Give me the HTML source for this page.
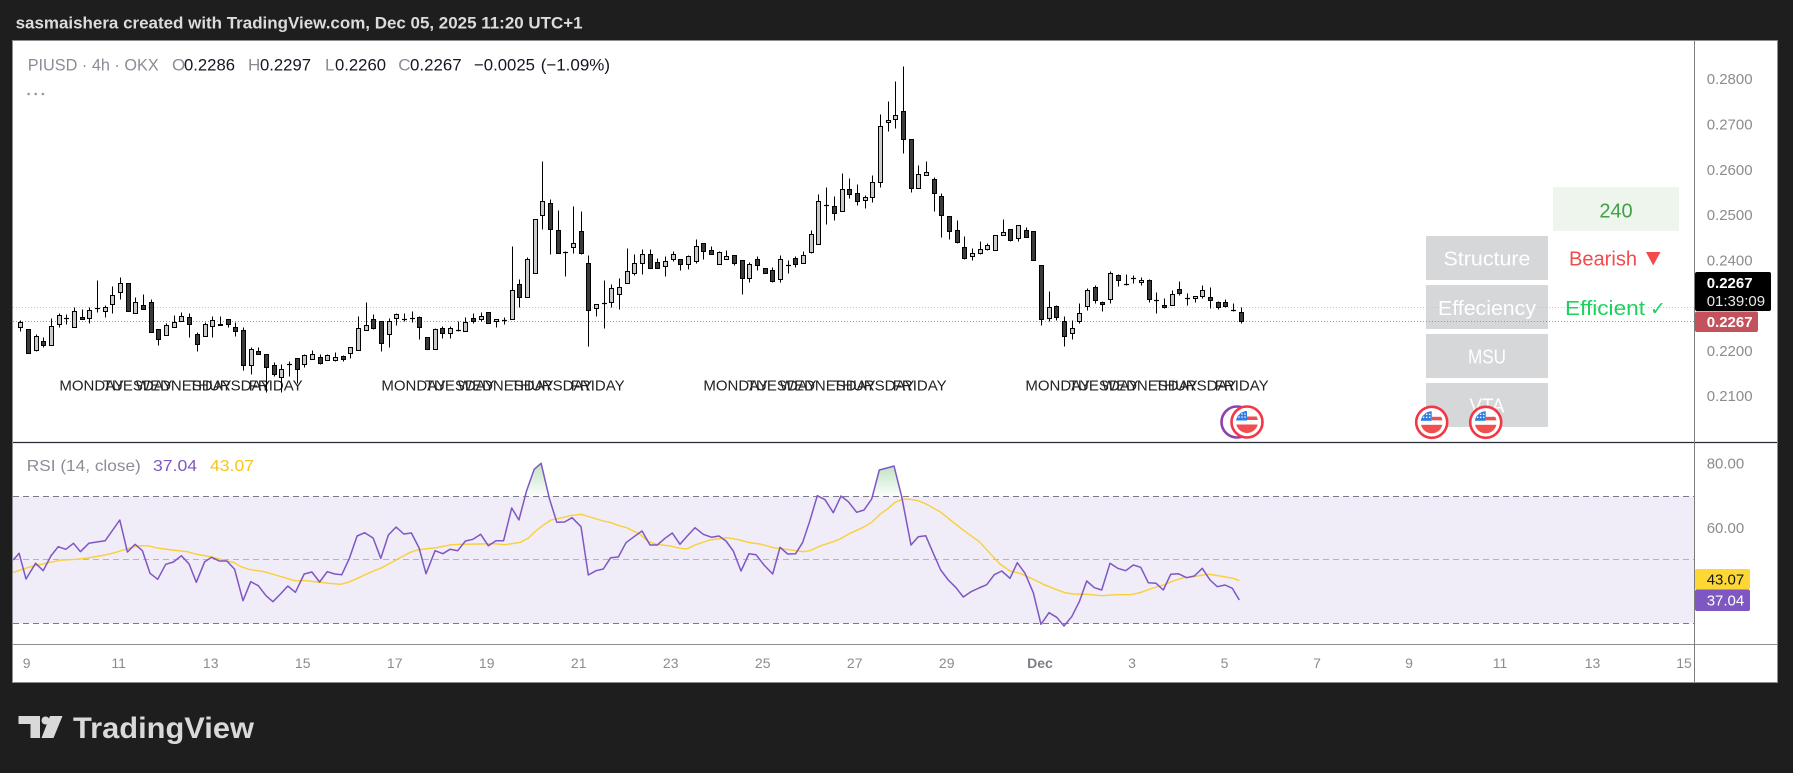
<!DOCTYPE html>
<html><head><meta charset="utf-8"><style>
html,body{margin:0;padding:0;background:#1e1e1e;overflow:hidden}
svg{display:block}
text{font-family:"Liberation Sans","DejaVu Sans",sans-serif}
</style></head><body>
<svg id="s" width="1793" height="773" viewBox="0 0 1793 773" xmlns="http://www.w3.org/2000/svg">
<defs>
<clipPath id="mainClip"><rect x="13" y="41" width="1681.5" height="401"/></clipPath>
<clipPath id="rsiClip"><rect x="13" y="443" width="1681.5" height="201"/></clipPath>
<clipPath id="fc"><circle cx="0" cy="0" r="11"/></clipPath>
<linearGradient id="gg" x1="0" y1="0" x2="0" y2="1"><stop offset="0" stop-color="#4caf50" stop-opacity="0.35"/><stop offset="1" stop-color="#4caf50" stop-opacity="0.02"/></linearGradient>
<g id="us">
<circle r="15.5" fill="#fff" stroke="#f23645" stroke-width="2.6"/>
<g clip-path="url(#fc)">
<rect x="-12" y="-12" width="24" height="24" fill="#fff"/>
<rect x="-12" y="-12" width="12" height="10.5" fill="#2f7de1"/>
<rect x="0" y="-5.5" width="12" height="3.5" fill="#f04f4f"/>
<rect x="-12" y="2.5" width="24" height="10" fill="#f04f4f"/>
<circle cx="-8" cy="-8" r="0.8" fill="#fff"/><circle cx="-5" cy="-8" r="0.8" fill="#fff"/><circle cx="-2" cy="-8" r="0.8" fill="#fff"/>
<circle cx="-8" cy="-5" r="0.8" fill="#fff"/><circle cx="-5" cy="-5" r="0.8" fill="#fff"/><circle cx="-2" cy="-5" r="0.8" fill="#fff"/>
</g>
</g>
</defs>

<rect x="0" y="0" width="1793" height="773" fill="#1e1e1e"/>
<text x="15.6" y="28.3" font-size="17" font-weight="bold" fill="#dcdcdc" textLength="567" lengthAdjust="spacingAndGlyphs">sasmaishera created with TradingView.com, Dec 05, 2025 11:20 UTC+1</text>

<!-- chart frame -->
<rect x="12.5" y="40.5" width="1765" height="642" fill="#ffffff" stroke="#8e8e8e" stroke-width="1"/>

<!-- legend -->
<text x="27.7" y="70.7" font-size="17" fill="#8a8d96" textLength="131" lengthAdjust="spacingAndGlyphs">PIUSD · 4h · OKX</text>
<text x="172" y="70.7" font-size="17" fill="#8a8d96">O</text>
<text x="184" y="70.7" font-size="17" fill="#131722" textLength="51" lengthAdjust="spacingAndGlyphs">0.2286</text>
<text x="248" y="70.7" font-size="17" fill="#8a8d96">H</text>
<text x="260" y="70.7" font-size="17" fill="#131722" textLength="51" lengthAdjust="spacingAndGlyphs">0.2297</text>
<text x="325" y="70.7" font-size="17" fill="#8a8d96">L</text>
<text x="335" y="70.7" font-size="17" fill="#131722" textLength="51" lengthAdjust="spacingAndGlyphs">0.2260</text>
<text x="398.3" y="70.7" font-size="17" fill="#8a8d96">C</text>
<text x="410" y="70.7" font-size="17" fill="#131722" textLength="51.7" lengthAdjust="spacingAndGlyphs">0.2267</text>
<text x="474" y="70.7" font-size="17" fill="#131722" textLength="61" lengthAdjust="spacingAndGlyphs">−0.0025</text>
<text x="540.7" y="70.7" font-size="17" fill="#131722" textLength="69.3" lengthAdjust="spacingAndGlyphs">(−1.09%)</text>
<circle cx="28.6" cy="94" r="1.3" fill="#9598a1"/><circle cx="35.7" cy="94" r="1.3" fill="#9598a1"/><circle cx="42.9" cy="94" r="1.3" fill="#9598a1"/>

<!-- panel boxes -->
<rect x="1553" y="187" width="126" height="44" fill="#edf5ed"/>
<text x="1616" y="217.3" font-size="20" fill="#43a047" text-anchor="middle">240</text>
<rect x="1426" y="236" width="122" height="44" fill="#d6d7d9"/>
<rect x="1426" y="285" width="122" height="44" fill="#d6d7d9"/>
<rect x="1426" y="334" width="122" height="44" fill="#d6d7d9"/>
<rect x="1426" y="383" width="122" height="44" fill="#d6d7d9"/>

<!-- price lines -->
<line x1="13" y1="307.5" x2="1694" y2="307.5" stroke="#f2d22a" stroke-width="1" stroke-dasharray="1,2"/>
<line x1="13" y1="321.5" x2="1694" y2="321.5" stroke="#9a9a9a" stroke-width="1" stroke-dasharray="1,2"/>

<text x="1487" y="265.7" font-size="20" fill="#ffffff" text-anchor="middle" textLength="87" lengthAdjust="spacingAndGlyphs">Structure</text>
<text x="1487" y="315" font-size="20" fill="#ffffff" text-anchor="middle" textLength="98" lengthAdjust="spacingAndGlyphs">Effeciency</text>
<text x="1487" y="363.3" font-size="20" fill="#ffffff" text-anchor="middle" textLength="38" lengthAdjust="spacingAndGlyphs">MSU</text>
<text x="1487" y="412.3" font-size="20" fill="#ffffff" text-anchor="middle" textLength="35" lengthAdjust="spacingAndGlyphs">VTA</text>
<text x="1569" y="265.7" font-size="20" fill="#f24b4b" textLength="68" lengthAdjust="spacingAndGlyphs">Bearish</text>
<polygon points="1646,252 1660.5,252 1653.2,265.5" fill="#f24b4b"/>
<text x="1565" y="315" font-size="20" fill="#1ed15f" textLength="80" lengthAdjust="spacingAndGlyphs">Efficient</text>
<text x="1650" y="315" font-size="19" fill="#1ed15f" font-family="DejaVu Sans, sans-serif">✓</text>

<!-- weekday labels -->
<g font-size="15" fill="#222" text-anchor="middle">
<text x="91.7" y="390.5">MONDAY</text><text x="137.7" y="390.5">TUESDAY</text><text x="183.7" y="390.5">WEDNESDAY</text><text x="229.7" y="390.5">THURSDAY</text><text x="275.7" y="390.5">FRIDAY</text>
<text x="413.7" y="390.5">MONDAY</text><text x="459.7" y="390.5">TUESDAY</text><text x="505.7" y="390.5">WEDNESDAY</text><text x="551.7" y="390.5">THURSDAY</text><text x="597.7" y="390.5">FRIDAY</text>
<text x="735.7" y="390.5">MONDAY</text><text x="781.7" y="390.5">TUESDAY</text><text x="827.7" y="390.5">WEDNESDAY</text><text x="873.7" y="390.5">THURSDAY</text><text x="919.7" y="390.5">FRIDAY</text>
<text x="1057.7" y="390.5">MONDAY</text><text x="1103.7" y="390.5">TUESDAY</text><text x="1149.7" y="390.5">WEDNESDAY</text><text x="1195.7" y="390.5">THURSDAY</text><text x="1241.7" y="390.5">FRIDAY</text>
</g>

<g id="candles" clip-path="url(#mainClip)"></g>

<!-- flags -->
<circle cx="1237" cy="422" r="15.5" fill="#fff" stroke="#8e3fb0" stroke-width="2.6"/>
<use href="#us" x="1247" y="422"/>
<use href="#us" x="1431.7" y="422.3"/>
<use href="#us" x="1485.7" y="422.3"/>

<!-- RSI pane -->
<rect x="13" y="496.3" width="1681.5" height="127" fill="#f0ecf8"/>
<line x1="13" y1="496.5" x2="1694" y2="496.5" stroke="#787b86" stroke-width="1" stroke-dasharray="6,4"/>
<line x1="13" y1="559.5" x2="1694" y2="559.5" stroke="#b2b5be" stroke-width="1" stroke-dasharray="6,4"/>
<line x1="13" y1="623.5" x2="1694" y2="623.5" stroke="#787b86" stroke-width="1" stroke-dasharray="6,4"/>
<g clip-path="url(#rsiClip)">
<polygon points="525.1,496.3 526.6,490.7 534.2,469.3 541.1,463.3 548.9,496.3" fill="url(#gg)"/>
<polygon points="872.4,496.3 879.3,470 887,468 894,466 901.6,496.3" fill="url(#gg)"/>
<polyline fill="none" stroke="#f9d037" stroke-width="1.4" stroke-linejoin="round" points="13,572.5 15.3,571.7 30.6,566.7 45.9,563.3 61.2,560 76.5,559.3 88,558 105.2,555 114.8,552.7 126.3,549 133.9,546.7 141.6,545.7 149.3,546 156.9,548 172.2,550 187.5,551.7 195.2,554 210.5,556.7 225.8,560.7 233.4,562.3 241.1,566.7 248.8,569.3 264.1,571.7 275.5,575 287,578.3 294.7,580.7 306.2,580.7 317.6,582 329.1,583.3 340.6,584.3 348.3,582.3 359.7,577.3 371.2,572 382.7,567.3 394.2,561 401.8,556.7 409.5,552.7 417.1,550 424.8,549 436.3,547.7 451.6,544.7 459.2,544.3 478.4,544 493.7,543.7 505.2,544.7 520.5,542.3 528.1,538.3 535.8,531 543.4,525 551.1,520 562.6,517.7 570,515.7 581.7,514.3 590,517 603.3,521 610,522.3 620,526 626.7,527.7 640,534.3 648.3,541.7 656.7,544.3 670,546 680,548.3 686.7,549 695,545 710,540 726.7,537.7 736.7,539.3 750,542.7 760,544 773.3,547.7 786.7,549.3 803.3,551.7 810,550.7 820,546 833.3,541.7 840,539 850,533.3 863.3,527.3 871.7,522.3 880,514.3 888.3,508.3 895,502.3 903.3,499 910,499.3 918.3,500.7 926.7,504.3 940,511.7 953.3,522.3 966.7,532.7 979.3,541.7 990,553.3 1000,564 1010,571 1020,573.3 1033.3,579.3 1043.3,584.3 1053.3,588.3 1065,592.7 1073.3,594 1086.7,594.3 1101.7,595.7 1116.7,594.7 1130,594.7 1140,592.7 1150,589 1163.3,585 1173.3,581 1183.3,577.7 1193.3,576.7 1203.3,575 1210,574.3 1220,576 1233.3,578.3 1239.3,580.7"/>
<polyline fill="none" stroke="#7e57c2" stroke-width="1.5" stroke-linejoin="round" points="13,560 15.3,557.7 19.1,553.3 26,579 35.6,563.3 43.2,570.7 50.9,556 58.2,546.7 65.8,549.3 73.5,543.3 80.4,551.7 88.8,543.3 96.8,542 105.2,540.7 119.8,520 127.4,552 135.1,544.3 142.4,550.7 150,573.3 157.7,579.3 165.7,564.3 173.4,562 181.4,555.7 189.1,564 196.3,582.3 204.7,561.7 211.6,557.3 219.3,561 226.9,561 234.6,569.3 243,600.7 250.7,581.7 258.3,585.7 266,595.7 272.9,601.7 280.5,594 287.8,586 295.4,592.3 304.2,574 311.9,572 319.6,582 327.2,571.7 334.9,574 341.8,574.7 349.4,558.3 357.1,536 364.7,532.7 373.1,538 380.8,558.3 388.4,535 396.1,527 403.8,534 411.4,533 419.1,548 426,573.7 435.1,550.7 442.8,553.7 450,549.3 457.7,550.7 465.4,541 473,539.3 480.7,534.3 488.3,545.7 496,540.7 503.6,540.7 511.7,508 518.9,520 526.6,490.7 534.2,469.3 541.1,463.3 549.6,499.3 556.8,522.3 564.5,522 572.1,517.7 581,526.7 588.3,575 596,570.7 603.3,569 610.7,557.7 618.3,557 626,542.7 634,536.7 642,531 650,545 657.3,545 665,538.3 672.3,533 680,544.3 687.3,536 695,527.7 703.3,534.3 711.7,537.3 719,536 726,541 733.3,551 741,571 749,553.7 756,554.7 764,565 772.7,574 780,547.3 787.7,554 795.7,553.7 802.7,542.3 810,520.3 817.3,495.7 825,499.7 833.3,512.7 841,496 848.3,501.7 856.7,512.3 864,510 871.7,499 879.3,470 887,468 894,466 901.7,496.7 911,545 918.3,536.7 925.7,535.7 933.3,553.3 940.7,570 948.3,580 956,587.7 963.3,597 971,591.7 979,588 986.7,584.7 994.3,574.7 1001.7,571 1010,578.3 1017.3,562.7 1025,573.3 1033.3,592.7 1041,624.3 1049,612.7 1056.7,617.3 1064,626 1071.7,616.7 1079.3,601.7 1086.7,581 1094.3,587.7 1101.7,590 1110,563.3 1117.7,568.3 1125.7,570.7 1133.3,565 1140.7,567.3 1148.3,582.7 1156,583.3 1163.3,590 1170.7,574.3 1178.3,573.7 1186.7,577.7 1194.3,576 1202.3,568.3 1210,580 1217.3,586.7 1225,585 1232.3,588.3 1239.3,600"/>
</g>
<text x="26.8" y="471" font-size="16" fill="#8a8d96" textLength="114" lengthAdjust="spacingAndGlyphs">RSI (14, close)</text>
<text x="153" y="471" font-size="16" fill="#7e57c2" textLength="44" lengthAdjust="spacingAndGlyphs">37.04</text>
<text x="210" y="471" font-size="16" fill="#f5c518" textLength="44" lengthAdjust="spacingAndGlyphs">43.07</text>

<!-- separators -->
<line x1="13" y1="442.5" x2="1777" y2="442.5" stroke="#2a2e39" stroke-width="1.2"/>
<line x1="13" y1="644.5" x2="1777" y2="644.5" stroke="#8e8e8e" stroke-width="1"/>
<line x1="1694.5" y1="41" x2="1694.5" y2="682" stroke="#7d7d7d" stroke-width="1"/>

<!-- price axis -->
<g font-size="15" fill="#8c8c8c">
<text x="1706.7" y="84.1">0.2800</text>
<text x="1706.7" y="129.7">0.2700</text>
<text x="1706.7" y="175">0.2600</text>
<text x="1706.7" y="219.8">0.2500</text>
<text x="1706.7" y="265.6">0.2400</text>
<text x="1706.7" y="355.8">0.2200</text>
<text x="1706.7" y="401.1">0.2100</text>
<text x="1706.7" y="468.7">80.00</text>
<text x="1706.7" y="533">60.00</text>
</g>
<rect x="1695" y="272" width="76" height="39" rx="2" fill="#000"/>
<text x="1706.7" y="288.2" font-size="15" font-weight="bold" fill="#fff">0.2267</text>
<text x="1706.7" y="306" font-size="15" fill="#e8e8e8">01:39:09</text>
<rect x="1695" y="311.5" width="63" height="20.5" rx="2" fill="#c4525d"/>
<text x="1706.7" y="327" font-size="15" font-weight="bold" fill="#fff">0.2267</text>
<rect x="1695" y="569" width="55" height="20.5" rx="2" fill="#fdd835"/>
<text x="1706.7" y="584.5" font-size="15" fill="#131722">43.07</text>
<rect x="1695" y="589.5" width="55" height="21.5" rx="2" fill="#7e57c2"/>
<text x="1706.7" y="605.5" font-size="15" fill="#fff">37.04</text>

<!-- time axis -->
<g font-size="14" fill="#8c8c8c" text-anchor="middle">
<text x="26.7" y="668">9</text><text x="118.7" y="668">11</text><text x="210.7" y="668">13</text><text x="302.7" y="668">15</text>
<text x="394.7" y="668">17</text><text x="486.7" y="668">19</text><text x="578.7" y="668">21</text><text x="670.7" y="668">23</text>
<text x="762.7" y="668">25</text><text x="854.7" y="668">27</text><text x="946.7" y="668">29</text>
<text x="1040" y="668" font-weight="bold" fill="#7d7f86">Dec</text>
<text x="1132" y="668">3</text><text x="1224.5" y="668">5</text><text x="1317" y="668">7</text><text x="1409" y="668">9</text>
<text x="1500" y="668">11</text><text x="1592.5" y="668">13</text><text x="1684" y="668">15</text>
</g>

<!-- TradingView logo -->
<g fill="#d9d9d9">
<path d="M18.5,716 H40 V738 H30.5 V724 H18.5 Z"/>
<circle cx="45.5" cy="720.5" r="4"/>
<path d="M50,716 H62.5 L53.5,738 H41.5 Z"/>
</g>
<text x="73" y="738" font-size="30" font-weight="bold" fill="#d9d9d9" textLength="181" lengthAdjust="spacingAndGlyphs">TradingView</text>
</svg>
<script>
(function(){
var A="L540,547,562,572 D568,568,640,640 L583,587,631,632 D590,604,616,620 L535,559,616,616 L520,525,552,562 P522,532,535,552 L502,514,562,562 D508,532,538,538 L502,511,535,548 P420,502,505,515 L496,502,514,530 L437,466,493,520 L411,430,457,476 D430,430,514,514 L472,487,520,520 D463,496,507,507 D478,487,577,577 D568,568,598,614 L548,555,586,586 L525,547,562,562 L517,529,544,544 D520,532,553,590 D577,583,613,632 L545,553,589,589 L529,541,559,590 D529,553,556,556 D538,538,553,562 D547,562,574,589 D562,571,676,689 L622,628,676,703 D622,634,643,643 D643,643,682,756 D667,676,703,709 L673,688,712,757 P664,670,673,709 D655,655,688,730 L643,646,673,682 L631,643,658,658 D643,652,670,673 L643,646,661,661 L637,652,661,664 D646,649,656,664 L622,622,640,655 L529,565,631,631 L487,556,571,571 D522,538,565,568 D544,544,610,632 L535,544,583,622 L520,523,535,556 P520,533,536,544 P514,531,534,547 D529,532,562,598";
var B="D845,845,883,883 L818,822,883,883 D812,818,833,848 L812,820,833,848 P797,822,825,828 L785,800,827,827 D775,790,799,803 L770,784,791,797 D772,772,803,803 L791,791,799,815 P785,792,795,806 L573,706,793,793 D672,686,727,755 L605,613,727,727 L493,493,655,655 L318,439,481,523 D433,445,523,597 D466,526,593,593 P588,589,592,662 L454,565,577,593 D469,529,593,596 D601,625,766,872 L748,748,758,782 P676,741,744,818 L688,700,742,757 L670,697,718,761 L579,649,685,685 L598,625,655,661 L583,598,625,658 D583,598,640,640 D610,622,640,640 L604,619,634,664 L589,598,613,619 D613,613,628,646 L601,604,628,643 L552,574,619,625 D565,565,589,613 D574,586,598,598 L589,592,628,628 L586,604,613,613 D601,601,625,631 D616,616,670,716 L622,628,670,682 D604,613,631,646 D640,640,655,655 D637,646,679,682 L601,613,673,682 P616,627,630,655 D604,610,628,637 L589,601,625,625 L526,538,592,595 L418,439,568,568 P397,447,450,508 D423,454,475,496";
var C="L354,403,469,469 D370,403,416,428 D388,415,439,450 L421,427,436,459 L361,382,427,442 L178,214,382,397 L138,195,202,227 L79,181,191,220 D34,169,253,293 D253,253,400,410 L331,358,400,400 L319,352,361,361 D367,373,415,467 D415,424,481,545 D484,484,529,553 D496,526,562,565 D544,577,610,613 L580,595,604,616 L559,583,595,598 L565,571,583,586 L541,541,586,586 L493,532,541,541 D523,523,556,559 L511,511,550,559 D517,526,547,547 D529,529,616,616 D631,631,793,811 L709,757,790,799 D751,754,787,796 D784,799,844,874 L796,820,835,853 L745,775,799,805 L700,706,754,766 D691,697,736,745 D739,742,748,769 L649,655,733,745 D658,661,676,694 P658,685,688,691 P661,666,669,685 L667,676,682,691 D673,676,733,742 P712,732,735,775 D730,751,757,760 L706,718,751,751 D679,703,715,721 P715,726,729,751 L724,724,730,742 L691,706,724,730 D697,727,736,760 D739,742,757,763 D733,742,754,757 P745,762,765,769 D757,772,799,805";
var out=[];var idx=0;
function add(str,off){
 str.split(" ").forEach(function(tok){
  var t=tok[0];var v=tok.slice(1).split(",").map(Number);
  var y=function(z){return off+z/3;};
  var xc=Math.round(20.3+7.675*idx)+0.5;
  var wt=Math.round(y(v[0]))+0.5, bt=Math.round(y(v[1]))+0.5, bb=Math.round(y(v[2]))+0.5, wb=Math.round(y(v[3]))+0.5;
  out.push('<line x1="'+xc+'" y1="'+wt+'" x2="'+xc+'" y2="'+wb+'" stroke="#000" stroke-width="1"/>');
  if(t==="P"){
   var m=Math.round((bt+bb)/2)+0.5;
   out.push('<line x1="'+(xc-2.5)+'" y1="'+m+'" x2="'+(xc+2.5)+'" y2="'+m+'" stroke="#000" stroke-width="1.2"/>');
  }else{
   var h=Math.max(1,bb-bt);
   out.push('<rect x="'+(xc-2)+'" y="'+bt+'" width="4" height="'+h+'" fill="'+(t==="L"?"#c9cacd":"#3a3a3a")+'" stroke="#000" stroke-width="1"/>');
  }
  idx++;
 });
}
add(A,140);add(B,55);add(C,55);
document.getElementById("candles").innerHTML=out.join("");
})();
</script>
</body></html>
